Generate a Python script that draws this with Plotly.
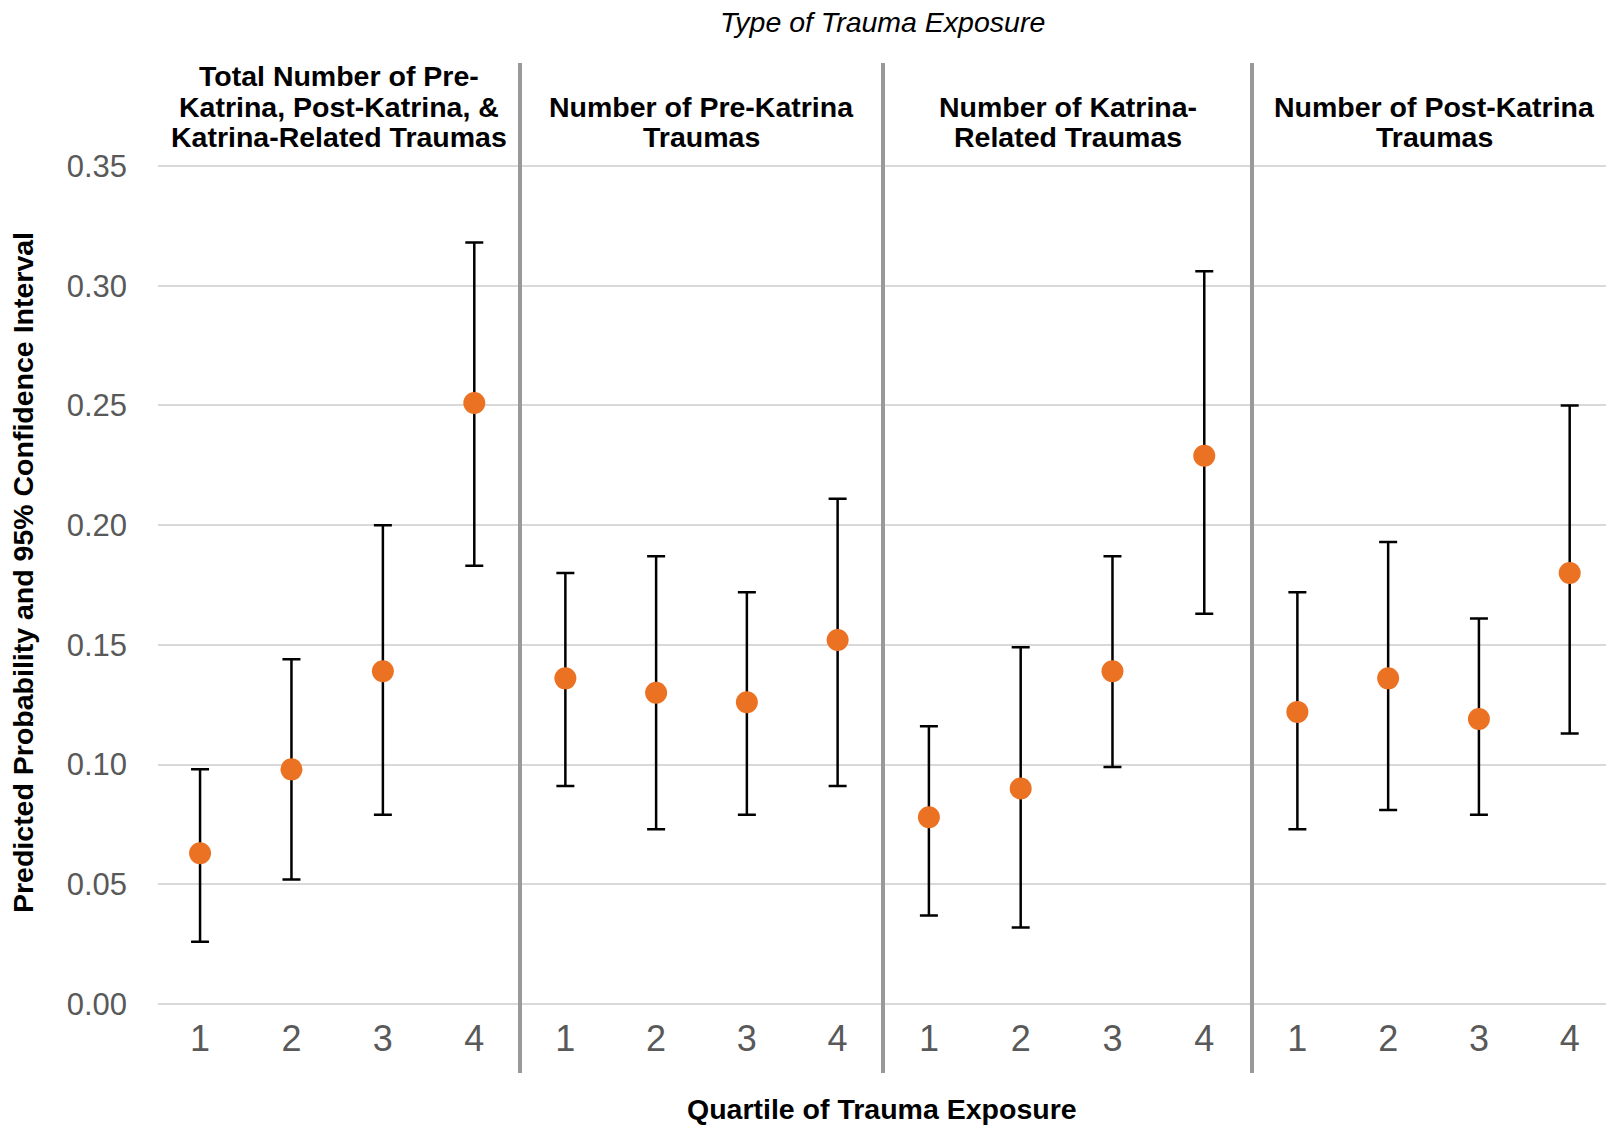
import plotly.graph_objects as go

# ---------------- data ----------------
quartiles = [1, 2, 3, 4]
quartile_labels = ["1", "2", "3", "4"]

panel_titles = [
    ["Total Number of Pre-", "Katrina, Post-Katrina, &", "Katrina-Related Traumas"],
    ["Number of Pre-Katrina", "Traumas"],
    ["Number of Katrina-", "Related Traumas"],
    ["Number of Post-Katrina", "Traumas"],
]

total_est = [0.063, 0.098, 0.139, 0.251]
total_upper = [0.098, 0.144, 0.200, 0.318]
total_lower = [0.026, 0.052, 0.079, 0.183]

pre_est = [0.136, 0.130, 0.126, 0.152]
pre_upper = [0.180, 0.187, 0.172, 0.211]
pre_lower = [0.091, 0.073, 0.079, 0.091]

katrina_est = [0.078, 0.090, 0.139, 0.229]
katrina_upper = [0.116, 0.149, 0.187, 0.306]
katrina_lower = [0.037, 0.032, 0.099, 0.163]

post_est = [0.122, 0.136, 0.119, 0.180]
post_upper = [0.172, 0.193, 0.161, 0.250]
post_lower = [0.073, 0.081, 0.079, 0.113]

y_ticks = [0.00, 0.05, 0.10, 0.15, 0.20, 0.25, 0.30, 0.35]
y_tick_labels = ["0.00", "0.05", "0.10", "0.15", "0.20", "0.25", "0.30", "0.35"]

series = [
    (total_est, total_upper, total_lower),
    (pre_est, pre_upper, pre_lower),
    (katrina_est, katrina_upper, katrina_lower),
    (post_est, post_upper, post_lower),
]

# ---------------- layout geometry ----------------
W, H = 1606, 1127
panel_px = [(158, 520), (520, 883), (883, 1252), (1252, 1606)]
panel_ranges = [[0.54, 4.5], [0.5, 4.5], [0.5, 4.52], [0.5, 4.4]]
y_pad = 0.004
y_range = [-y_pad, 0.35 + y_pad]
px_per_unit = 838 / 0.35
y_top_px = 166 - y_pad * px_per_unit
y_bot_px = 1004 + y_pad * px_per_unit

FONT = "Liberation Sans, Arial, Helvetica, sans-serif"
ORANGE = "#EB7223"
TICK_GRAY = "#595959"
GRID = "#d9d9d9"
SEP = "#999999"


def px_x(p):
    return p / W


def px_y(p):
    return 1 - p / H


fig = go.Figure()

for i, (est, up, lo) in enumerate(series):
    xname = "x" if i == 0 else f"x{i+1}"
    fig.add_trace(go.Scatter(
        x=quartiles,
        y=est,
        xaxis=xname,
        yaxis="y",
        mode="markers",
        marker=dict(color=ORANGE, size=22, line=dict(width=0)),
        error_y=dict(
            type="data",
            symmetric=False,
            array=[u - e for u, e in zip(up, est)],
            arrayminus=[e - l for e, l in zip(est, lo)],
            color="black",
            thickness=2.5,
            width=9,
        ),
        cliponaxis=False,
        showlegend=False,
        hoverinfo="x+y",
    ))

layout = dict(
    template="none",
    width=W,
    height=H,
    autosize=False,
    margin=dict(l=0, r=0, t=0, b=0, pad=0),
    paper_bgcolor="white",
    plot_bgcolor="white",
    font=dict(family=FONT, color="black"),
    showlegend=False,
)

for i, ((a, b), rng) in enumerate(zip(panel_px, panel_ranges)):
    key = "xaxis" if i == 0 else f"xaxis{i+1}"
    layout[key] = dict(
        domain=[px_x(a), px_x(b)],
        range=rng,
        anchor="y",
        tickmode="array",
        tickvals=quartiles,
        ticktext=quartile_labels,
        tickfont=dict(family=FONT, size=36, color=TICK_GRAY),
        ticklabelstandoff=0,
        showgrid=False,
        zeroline=False,
        showline=False,
        ticks="",
        automargin=False,
        fixedrange=True,
    )

layout["yaxis"] = dict(
    domain=[px_y(y_bot_px), px_y(y_top_px)],
    range=y_range,
    anchor="x",
    tickmode="array",
    tickvals=y_ticks,
    ticktext=y_tick_labels,
    tickfont=dict(family=FONT, size=31, color=TICK_GRAY),
    ticklabelstandoff=30,
    showgrid=True,
    gridcolor=GRID,
    gridwidth=2,
    zeroline=False,
    showline=False,
    ticks="",
    automargin=False,
    fixedrange=True,
)

fig.update_layout(**layout)

# separators between panels
for a, b in panel_px[1:]:
    fig.add_shape(
        type="line", xref="paper", yref="paper",
        x0=px_x(a), x1=px_x(a), y0=px_y(63), y1=px_y(1073),
        line=dict(color=SEP, width=4),
        layer="above",
    )

annotations = []
# panel headers
line_gap = 30.7
header_center_x = [339, 701.5, 1067.5, 1434]
for lines, cx in zip(panel_titles, header_center_x):
    last_y = 137.2
    n = len(lines)
    for k, txt in enumerate(lines):
        yy = last_y - (n - 1 - k) * line_gap
        annotations.append(dict(
            text=f"<b>{txt}</b>", xref="paper", yref="paper",
            x=px_x(cx), y=px_y(yy), xanchor="center", yanchor="middle",
            showarrow=False, font=dict(family=FONT, size=28.5, color="black"),
        ))

# top title
annotations.append(dict(
    text="<i>Type of Trauma Exposure</i>", xref="paper", yref="paper",
    x=px_x(882), y=px_y(22.5), xanchor="center", yanchor="middle",
    showarrow=False, font=dict(family=FONT, size=28.5, color="black"),
))
# x-axis title
annotations.append(dict(
    text="<b>Quartile of Trauma Exposure</b>", xref="paper", yref="paper",
    x=px_x(882), y=px_y(1109), xanchor="center", yanchor="middle",
    showarrow=False, font=dict(family=FONT, size=28.5, color="black"),
))
# y-axis title
annotations.append(dict(
    text="<b>Predicted Probability and 95% Confidence Interval</b>",
    xref="paper", yref="paper",
    x=px_x(23), y=px_y(573), xanchor="center", yanchor="middle",
    textangle=-90, showarrow=False,
    font=dict(family=FONT, size=28.5, color="black"),
))

fig.update_layout(annotations=annotations)

fig.write_html(
    "out.html",
    config={"displayModeBar": False, "staticPlot": True},
    post_script="document.body.style.margin='0';document.body.style.overflow='hidden';",
)
